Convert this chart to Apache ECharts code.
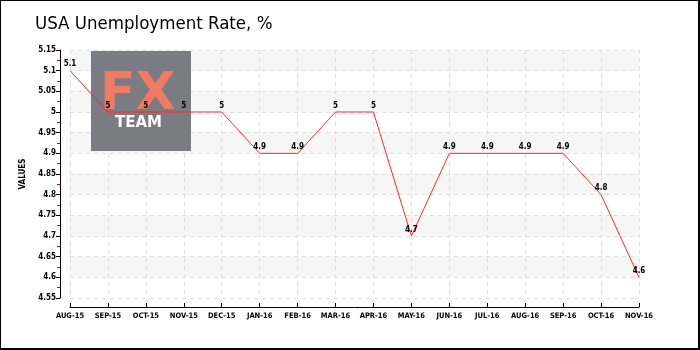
<!DOCTYPE html>
<html>
<head>
<meta charset="utf-8">
<script src="https://cdn.jsdelivr.net/npm/echarts@6/dist/echarts.min.js"></script>
<style>
html,body{margin:0;padding:0;background:#fff;}
#c{width:700px;height:350px;box-sizing:border-box;border-left:1px solid #000;border-top:1px solid #000;border-right:2px solid #000;border-bottom:2px solid #000;}
</style>
</head>
<body>
<div id="c"></div>
<script>
var categories = ['AUG-15','SEP-15','OCT-15','NOV-15','DEC-15','JAN-16','FEB-16','MAR-16','APR-16','MAY-16','JUN-16','JUL-16','AUG-16','SEP-16','OCT-16','NOV-16'];
var rates = [5.1, 5, 5, 5, 5, 4.9, 4.9, 5, 5, 4.7, 4.9, 4.9, 4.9, 4.9, 4.8, 4.6];
var titleText = 'USA Unemployment Rate, %';
var yName = 'VALUES';

var chart = echarts.init(document.getElementById('c'), null, {renderer:'canvas'});
var smallFont = 'DejaVu Sans Condensed';
chart.setOption({
  animation: false,
  title: {
    text: titleText, left: 29, top: 9,
    textStyle: {fontFamily: 'DejaVu Sans Condensed', fontWeight: 'normal', fontSize: 18.5, color: '#000'}
  },
  grid: {left: 69, right: 59, top: 49, bottom: 50},
  xAxis: {
    type: 'category', data: categories, boundaryGap: false, offset: 9,
    axisLine: {lineStyle: {color: '#000', width: 1}},
    axisTick: {inside: true, length: 4, interval: 0, lineStyle: {color: '#000'}},
    axisLabel: {interval: 0, fontFamily: smallFont, fontWeight: 'bold', fontSize: 7.5, color: '#000', margin: 5},
    splitLine: {show: true, interval: 0, lineStyle: {type: [4, 4], color: '#dedede'}}
  },
  yAxis: {
    type: 'value', min: 4.55, max: 5.15, interval: 0.05, offset: 10,
    name: yName, nameLocation: 'middle', nameGap: 25,
    nameTextStyle: {fontFamily: smallFont, fontWeight: 'bold', fontSize: 8, color: '#000'},
    axisLine: {show: true, lineStyle: {color: '#000', width: 1}},
    axisTick: {show: true, length: 4, lineStyle: {color: '#000'}},
    minorTick: {show: true, splitNumber: 2, length: 3, lineStyle: {color: '#e00000'}},
    axisLabel: {fontFamily: smallFont, fontWeight: 'bold', fontSize: 8, color: '#000', margin: 4,
      formatter: function (v) { return String(parseFloat(v.toFixed(2))); }},
    splitLine: {show: true, lineStyle: {type: [4, 4], color: '#dedede'}},
    splitArea: {show: true, areaStyle: {color: ['rgba(255,255,255,0)', '#f6f6f6']}}
  },
  graphic: [
    {type: 'rect', z: 1, shape: {x: 90, y: 50, width: 100, height: 100}, style: {fill: '#7b7b83'}},
    {type: 'text', z: 1, left: 99, top: 68, style: {text: 'FX', fill: '#f07a62', font: 'bold 52px "DejaVu Sans"'}},
    {type: 'text', z: 1, left: 114, top: 115, style: {text: 'TEAM', fill: '#ffffff', font: 'bold 15px "DejaVu Sans"'}}
  ],
  series: [{
    type: 'line', data: rates, showSymbol: true, symbol: 'circle', symbolSize: 1, z: 10, zlevel: 1,
    itemStyle: {color: 'rgba(255,42,42,0)', borderWidth: 0},
    lineStyle: {color: '#ff2a2a', width: 1},
    label: {show: true, position: 'top', distance: 2, fontFamily: smallFont, fontWeight: 'bold', fontSize: 8, color: '#000'}
  }]
});
</script>
</body>
</html>
